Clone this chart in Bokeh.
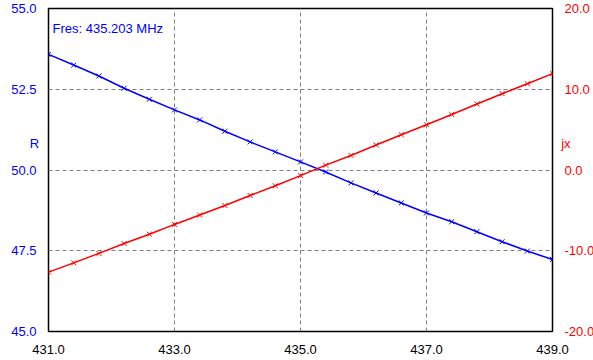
from bokeh.plotting import figure
from bokeh.models import Range1d, LinearAxis, FixedTicker, Label, PrintfTickFormatter
from bokeh.embed import file_html
from bokeh.resources import INLINE

# ---- data ----
freq_mhz = [431.0, 431.4, 431.8, 432.2, 432.6, 433.0, 433.4, 433.8, 434.2, 434.6, 435.0,
            435.4, 435.8, 436.2, 436.6, 437.0, 437.4, 437.8, 438.2, 438.6, 439.0]
r_ohm = [53.58, 53.25, 52.91, 52.53, 52.19, 51.86, 51.55, 51.20, 50.87, 50.56, 50.25,
         49.94, 49.60, 49.29, 48.98, 48.67, 48.40, 48.09, 47.78, 47.49, 47.23]
jx_ohm = [-12.65, -11.50, -10.33, -9.10, -7.95, -6.74, -5.58, -4.40, -3.15, -1.95, -0.70,
          0.60, 1.80, 3.10, 4.37, 5.61, 6.88, 8.18, 9.45, 10.69, 11.93]
x_ticks = [431, 433, 435, 437, 439]
r_ticks = [45, 47.5, 50, 52.5, 55]
jx_ticks = [-20, -10, 0, 10, 20]
fres_text = "Fres: 435.203 MHz"
r_label = "R"
jx_label = "jx"

FONT = "Liberation Sans"
BLUE = "#0000FF"
RED = "#FF0000"
PAD = "\n\u00a0\n\u00a0\n\u00a0"   # lifts the horizontal axis label above the axis centre

p = figure(width=593, height=360, output_backend="svg", toolbar_location=None,
           x_range=Range1d(431, 439), y_range=Range1d(45, 55),
           min_border_left=48, min_border_right=41, min_border_top=8, min_border_bottom=29)
p.extra_y_ranges = {"jx": Range1d(-20, 20)}

p.outline_line_color = "black"
p.outline_line_width = 1.5
p.background_fill_color = "white"
p.border_fill_color = "white"

def style_axis(ax, color, ticks):
    ax.ticker = FixedTicker(ticks=ticks)
    ax.formatter = PrintfTickFormatter(format="%.1f")
    ax.axis_line_color = None
    ax.major_tick_line_color = None
    ax.minor_tick_line_color = None
    ax.major_label_text_color = color
    ax.major_label_text_font = FONT
    ax.major_label_text_font_size = "13px"
    ax.axis_label_text_color = color
    ax.axis_label_text_font = FONT
    ax.axis_label_text_font_size = "13px"
    ax.axis_label_text_font_style = "normal"
    ax.axis_label_orientation = "horizontal"

style_axis(p.xaxis[0], "black", x_ticks)
p.xaxis[0].major_label_standoff = 7

left = p.yaxis[0]
style_axis(left, BLUE, r_ticks)
left.major_label_standoff = 6
left.axis_label = r_label + PAD
left.axis_label_standoff = -31

right = LinearAxis(y_range_name="jx")
style_axis(right, RED, jx_ticks)
right.major_label_standoff = 6
right.axis_label = jx_label + PAD
right.axis_label_standoff = -36
p.add_layout(right, "right")

p.xgrid.ticker = FixedTicker(ticks=x_ticks)
p.ygrid.ticker = FixedTicker(ticks=r_ticks)
for g in (p.xgrid[0], p.ygrid[0]):
    g.grid_line_color = "#808080"
    g.grid_line_dash = "4 3"
    g.grid_line_width = 1

p.line(freq_mhz, r_ohm, line_color=BLUE, line_width=1.5)
p.scatter(freq_mhz, r_ohm, marker="x", size=7, line_color=BLUE, line_width=1)
p.line(freq_mhz, jx_ohm, line_color=RED, line_width=1.5, y_range_name="jx")
p.scatter(freq_mhz, jx_ohm, marker="x", size=7, line_color=RED, line_width=1, y_range_name="jx")

p.add_layout(Label(x=431, y=55, x_offset=4, y_offset=-20, text=fres_text, text_color=BLUE,
                   text_font=FONT, text_font_size="13px", text_align="left",
                   text_baseline="alphabetic"))

open("out.html", "w").write(file_html(p, INLINE))
